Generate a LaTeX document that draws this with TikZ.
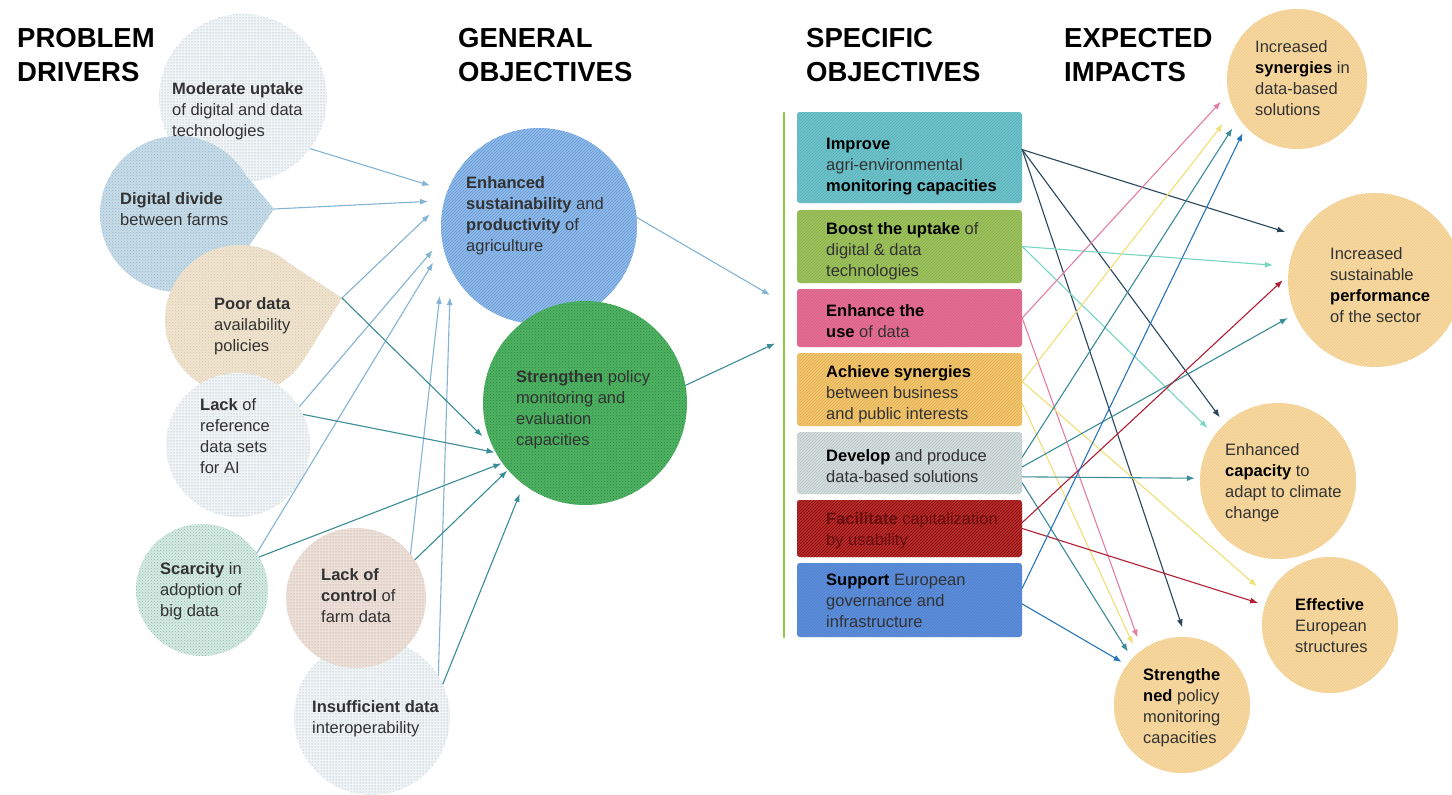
\documentclass[tikz,border=0pt]{standalone}
\usepackage{fontspec}
\setmainfont{Liberation Sans}
\usetikzlibrary{arrows.meta,patterns}

\definecolor{txtgray}{RGB}{50,50,50}
\definecolor{dotgray}{RGB}{140,160,172}
\definecolor{blobwhite}{RGB}{240,244,246}
\definecolor{ddblue}{RGB}{200,220,232}
\definecolor{ddline}{RGB}{150,184,206}
\definecolor{pdbeige}{RGB}{240,228,208}
\definecolor{pdline}{RGB}{218,200,170}
\definecolor{scteal}{RGB}{214,234,227}
\definecolor{scdot}{RGB}{140,188,172}
\definecolor{lcpink}{RGB}{236,224,217}
\definecolor{lcdot}{RGB}{168,144,132}
\definecolor{goblue}{RGB}{144,188,234}
\definecolor{gobluel}{RGB}{104,152,214}
\definecolor{gogreen}{RGB}{78,178,98}
\definecolor{gogreend}{RGB}{46,136,66}
\definecolor{soteal}{RGB}{108,196,204}
\definecolor{sogreen}{RGB}{157,195,91}
\definecolor{sopink}{RGB}{234,110,150}
\definecolor{soorange}{RGB}{247,198,106}
\definecolor{sogray}{RGB}{212,223,224}
\definecolor{sored}{RGB}{201,42,42}
\definecolor{soblue}{RGB}{92,143,224}
\definecolor{barg}{RGB}{141,198,63}
\definecolor{imptan}{RGB}{248,217,158}
\definecolor{imphatch}{RGB}{238,204,146}
\definecolor{arlight}{RGB}{132,180,212}
\definecolor{arteal}{RGB}{58,140,150}
\definecolor{arnavy}{RGB}{40,70,92}
\definecolor{armint}{RGB}{120,214,192}
\definecolor{arpink}{RGB}{226,126,166}
\definecolor{aryellow}{RGB}{238,224,118}
\definecolor{arred}{RGB}{176,30,52}
\definecolor{arblue}{RGB}{40,118,186}
\definecolor{redtxt}{RGB}{105,15,15}

\begin{document}
\begin{tikzpicture}[x=1pt, y=-1pt, line join=round, line cap=round, >={Latex[length=8pt,width=6pt]}]
    \tikzset{
        head/.style={anchor=north west, inner sep=0pt, align=left, font=\fontsize{27.5}{34}\selectfont\bfseries},
        txt/.style={anchor=north west, inner sep=0pt, align=left, text=txtgray, font=\fontsize{16.5}{21}\selectfont},
        blob/.style={circle, inner sep=0pt, minimum size=#1},
        dotfill/.style={fill=blobwhite, postaction={pattern=dots, pattern color=dotgray}},
        ddfill/.style={fill=ddblue, postaction={pattern=crosshatch dots, pattern color=ddline}},
        pdfill/.style={fill=pdbeige, postaction={pattern=crosshatch dots, pattern color=pdline}},
        scfill/.style={fill=scteal, postaction={pattern=crosshatch dots, pattern color=scdot}},
        lcfill/.style={fill=lcpink, postaction={pattern=dots, pattern color=lcdot}},
        objbox/.style={rectangle, rounded corners=3pt, minimum width=225, inner sep=0pt, fill=#1, postaction={pattern=north east lines, pattern color=#1!88!black}},
        impact/.style={circle, inner sep=0pt, minimum size=#1, fill=imptan, postaction={pattern=north east lines, pattern color=imphatch}},
        pdA/.style={->, draw=arlight, line width=1.1pt},
        pdB/.style={->, draw=arteal, line width=1.1pt, shorten >=1pt},
        link/.style={->, line width=1.1pt}
    }
    \fill[white] (0,0) rectangle (1452,795);
    \useasboundingbox (0,0) rectangle (1452,795);

    % column heads
    \node[head] (hpd) at (17,28) {PROBLEM\\DRIVERS};
    \node[head] (hgo) at (458,28) {GENERAL\\OBJECTIVES};
    \node[head] (hso) at (806,28) {SPECIFIC\\OBJECTIVES};
    \node[head] (hei) at (1064,28) {EXPECTED\\IMPACTS};

    % problem drivers
    \node[blob=168, dotfill] (mu) at (243,98) {};
    \node[blob=156, ddfill] (dd) at (178,214) {};
    \coordinate (ddtip) at (274,209);
    \fill[ddfill] (dd.50) -- (ddtip) -- (dd.-45) -- (dd.center) -- cycle;
    \node[blob=150, pdfill] (pd) at (240,320) {};
    \coordinate (pdtip) at (342,298);
    \fill[pdfill] (pd.65) -- (pdtip) -- (pd.-30) -- (pd.center) -- cycle;
    \node[blob=144, dotfill] (lr) at (238,445) {};
    \node[blob=132, scfill] (sc) at (202,590) {};
    \node[blob=156, dotfill] (ins) at (372,717) {};
    \node[blob=140, lcfill] (lc) at (356,598) {};

    \node[txt] (mutxt) at (172,82) {\textbf{Moderate uptake}\\of digital  and data\\technologies};
    \node[txt] (ddtxt) at (120,192) {\textbf{Digital divide}\\between farms};
    \node[txt] (pdtxt) at (214,297) {\textbf{Poor data}\\availability\\policies};
    \node[txt] (lrtxt) at (200,398) {\textbf{Lack} of\\reference\\data sets\\for AI};
    \node[txt] (sctxt) at (160,562) {\textbf{Scarcity} in\\adoption of\\big data};
    \node[txt] (lctxt) at (321,568) {\textbf{Lack of}\\\textbf{control} of\\farm data};
    \node[txt] (instxt) at (312,700) {\textbf{Insufficient data}\\interoperability};

    % general objectives
    \node[blob=196, fill=goblue, postaction={pattern=north east lines, pattern color=gobluel}] (go1) at (539,226) {};
    \node[blob=204, fill=gogreen, postaction={pattern=crosshatch dots, pattern color=gogreend}] (go2) at (585,403) {};
    \node[txt] (go1txt) at (466,176) {\textbf{Enhanced}\\\textbf{sustainability} and\\\textbf{productivity} of\\agriculture};
    \node[txt] (go2txt) at (516,370) {\textbf{Strengthen} policy\\monitoring and\\evaluation\\capacities};

    % specific objectives
    \draw[barg, line width=2.5pt] (784,113) -- (784,637);
    \coordinate (in1) at (770,295);
    \coordinate (in2) at (776,343);
    \node[objbox=soteal, minimum height=91] (so1) at (909.5,157.5) {};
    \node[objbox=sogreen, minimum height=73] (so2) at (909.5,246.5) {};
    \node[objbox=sopink, minimum height=58] (so3) at (909.5,318) {};
    \node[objbox=soorange, minimum height=73] (so4) at (909.5,389.5) {};
    \node[objbox=sogray, minimum height=62] (so5) at (909.5,463) {};
    \node[objbox=sored, minimum height=57, postaction={pattern=north east lines, pattern color=sored!55!black}] (so6) at (909.5,528.5) {};
    \node[objbox=soblue, minimum height=74] (so7) at (909.5,600) {};

    \node[txt] (so1txt) at (826,138) {\textbf{\color{black}Improve}\\agri-environmental\\\textbf{\color{black}monitoring capacities}};
    \node[txt] (so2txt) at (826,222) {\textbf{\color{black}Boost the uptake} of\\digital \& data\\technologies};
    \node[txt] (so3txt) at (826,304) {\textbf{\color{black}Enhance the}\\\textbf{\color{black}use} of data};
    \node[txt] (so4txt) at (826,365) {\textbf{\color{black}Achieve synergies}\\between business\\and public interests};
    \node[txt] (so5txt) at (826,449) {\textbf{\color{black}Develop} and produce\\data-based solutions};
    \node[txt, text=redtxt] (so6txt) at (826,512) {\textbf{Facilitate} capitalization\\by usability};
    \node[txt] (so7txt) at (826,574) {\textbf{\color{black}Support} European\\governance and\\infrastructure};

    % expected impacts
    \node[impact=140] (i1) at (1297,79) {};
    \node[impact=174] (i2) at (1375,280) {};
    \node[impact=156] (i3) at (1278,481) {};
    \node[impact=136] (i4) at (1330,625) {};
    \node[impact=136] (i5) at (1182,705) {};
    \node[txt] (i1txt) at (1255,40) {Increased\\\textbf{\color{black}synergies} in\\data-based\\solutions};
    \node[txt] (i2txt) at (1330,247) {Increased\\sustainable\\\textbf{\color{black}performance}\\of the sector};
    \node[txt] (i3txt) at (1225,443) {Enhanced\\\textbf{\color{black}capacity} to\\adapt to climate\\change};
    \node[txt] (i4txt) at (1295,598) {\textbf{\color{black}Effective}\\European\\structures};
    \node[txt] (i5txt) at (1143,668) {\textbf{\color{black}Strengthe}\\\textbf{\color{black}ned} policy\\monitoring\\capacities};

    % drivers -> general objectives
    \draw[pdA, shorten >=18pt] (mu.-37) -- (go1.159);
    \draw[pdA, shorten >=16pt] (ddtip) -- (go1.165);
    \draw[pdA, shorten >=20pt] (pdtip) -- (go1.165);
    \draw[pdA, shorten >=14pt] (lr.32) -- (go1.188);
    \draw[pdA, shorten >=19pt] (sc.34) -- (go1.192);
    \draw[pdA, shorten >=43pt] (lc.39) -- (go1.196);
    \draw[pdA, shorten >=28pt] (ins.32) -- (go1.206);
    \draw[pdB, shorten >=14pt] (pdtip) -- (go2.205);
    \draw[pdB] (lr.25) -- (go2.209);
    \draw[pdB] (sc.30) -- (go2.216);
    \draw[pdB] (lc.33) -- (go2.221);
    \draw[pdB, shorten >=10pt] (ins.25) -- (go2.233);

    % general -> specific
    \draw[pdA] (go1.5) -- (in1);
    \draw[pdB] (go2.10) -- (in2);

    % specific -> impacts
    \draw[link, arnavy, shorten >=15pt] (so1.4) -- (i2.150);
    \draw[link, arnavy, shorten >=8pt] (so1.4) -- (i3.133);
    \draw[link, arnavy, shorten >=10pt] (so1.4) -- (i5.87);
    \draw[link, armint, shorten >=16pt] (so2.east) -- (i2.171);
    \draw[link, armint, shorten >=10pt] (so2.east) -- (i3.144);
    \draw[link, arpink, shorten >=11pt] (so3.east) -- (i1.192);
    \draw[link, arpink, shorten >=13pt] (so3.east) -- (i5.126);
    \draw[link, aryellow, shorten >=18pt] (so4.4) -- (i1.206);
    \draw[link, aryellow, shorten >=15pt] (so4.4) -- (i4.155);
    \draw[link, aryellow, shorten >=10pt] (so4.-7) -- (i5.131);
    \draw[link, arteal, shorten >=12pt] (so5.3) -- (i1.214);
    \draw[link, arteal, shorten >=8pt] (so5.-2) -- (i2.203);
    \draw[link, arteal, shorten >=5pt] (so5.-7) -- (i3.178);
    \draw[link, arteal, shorten >=8pt] (so5.-10) -- (i5.137);
    \draw[link, arred, shorten >=7pt] (so6.3) -- (i2.177);
    \draw[link, arred, shorten >=7pt] (so6.east) -- (i4.163);
    \draw[link, arblue, shorten >=7pt] (so7.6) -- (i1.223);
    \draw[link, arblue, shorten >=6pt] (so7.-2) -- (i5.144);
\end{tikzpicture}
\end{document}
